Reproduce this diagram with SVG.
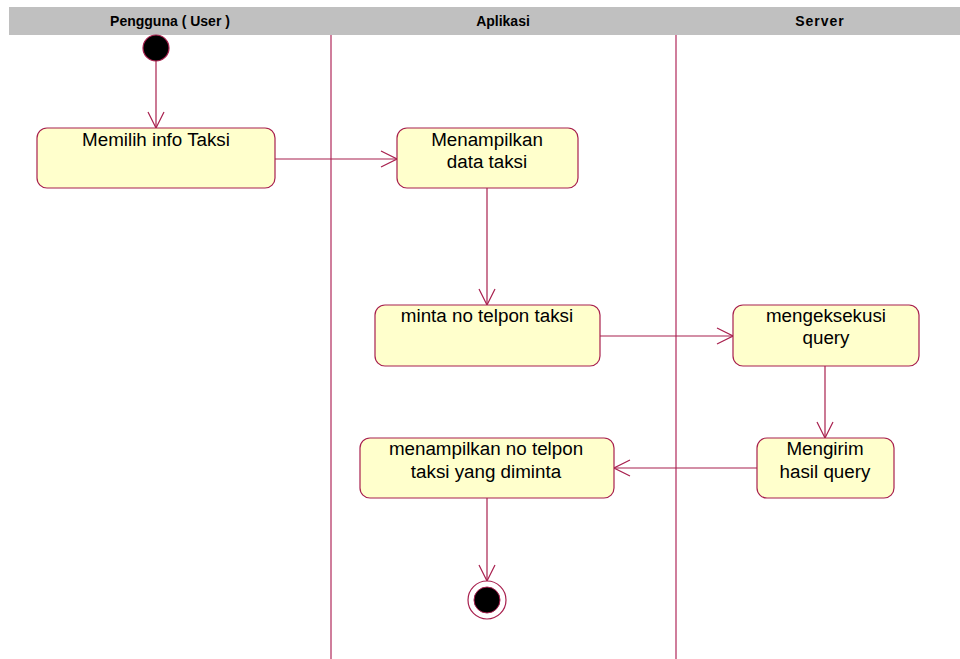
<svg xmlns="http://www.w3.org/2000/svg" width="960" height="659" viewBox="0 0 960 659">
  <style>
    .hdr { fill: #c0c0c0; }
    .hdrtxt { font-family: "Liberation Sans", Arial, sans-serif; font-size: 14px; font-weight: bold; fill: #000; text-anchor: middle; }
    .lane { stroke: #b0285a; stroke-width: 1.2; fill: none; }
    .act { fill: #ffffcc; stroke: #a8204e; stroke-width: 1.2; }
    .lbl { font-family: "Liberation Sans", Arial, sans-serif; font-size: 18.8px; fill: #000; text-anchor: middle; }
    .flow { stroke: #a8204e; stroke-width: 1.2; fill: none; }
    .ah { stroke: #a8204e; stroke-width: 1.2; fill: none; }
  </style>
  <defs>
    <marker id="open" viewBox="0 0 18 18" refX="17" refY="9" markerWidth="18" markerHeight="18" markerUnits="userSpaceOnUse" orient="auto">
      <path class="ah" d="M1,1 L17,9 L1,17"/>
    </marker>
  </defs>
  <rect width="960" height="659" fill="#fff"/>

  <!-- swimlane headers -->
  <g id="lanes">
    <rect class="hdr" x="9" y="7" width="951" height="28"/>
    <text class="hdrtxt" x="170" y="26">Pengguna ( User )</text>
    <text class="hdrtxt" x="503" y="26">Aplikasi</text>
    <text class="hdrtxt" x="820" y="26" letter-spacing="1">Server</text>
    <line class="lane" x1="331" y1="35" x2="331" y2="659"/>
    <line class="lane" x1="676" y1="35" x2="676" y2="659"/>
  </g>

  <!-- transitions -->
  <g id="connectors">
    <line class="flow" x1="156" y1="61" x2="156" y2="128" marker-end="url(#open)"/>
    <line class="flow" x1="275" y1="159" x2="397" y2="159" marker-end="url(#open)"/>
    <line class="flow" x1="487" y1="188" x2="487" y2="305" marker-end="url(#open)"/>
    <line class="flow" x1="600" y1="336" x2="733" y2="336" marker-end="url(#open)"/>
    <line class="flow" x1="825" y1="366" x2="825" y2="438" marker-end="url(#open)"/>
    <line class="flow" x1="757" y1="468" x2="614" y2="468" marker-end="url(#open)"/>
    <line class="flow" x1="487" y1="498" x2="487" y2="581" marker-end="url(#open)"/>
  </g>

  <g id="start">
    <circle cx="156" cy="48" r="13" fill="#000" stroke="#a8204e" stroke-width="1.2"/>
  </g>

  <g id="memilih-info-taksi">
    <rect class="act" x="37" y="128" width="238" height="60" rx="10"/>
    <text class="lbl" x="156" y="146">Memilih info Taksi</text>
  </g>

  <g id="menampilkan-data-taksi">
    <rect class="act" x="397" y="128" width="181" height="60" rx="10"/>
    <text class="lbl" x="487" y="146">Menampilkan</text>
    <text class="lbl" x="487" y="168">data taksi</text>
  </g>

  <g id="minta-no-telpon">
    <rect class="act" x="375" y="305" width="225" height="61" rx="10"/>
    <text class="lbl" x="487" y="322">minta no telpon taksi</text>
  </g>

  <g id="mengeksekusi-query">
    <rect class="act" x="733" y="305" width="186" height="61" rx="10"/>
    <text class="lbl" x="826" y="322">mengeksekusi</text>
    <text class="lbl" x="826" y="344">query</text>
  </g>

  <g id="mengirim-hasil">
    <rect class="act" x="757" y="438" width="137" height="60" rx="10"/>
    <text class="lbl" x="825" y="455">Mengirim</text>
    <text class="lbl" x="825" y="478">hasil query</text>
  </g>

  <g id="menampilkan-no-telpon">
    <rect class="act" x="360" y="438" width="254" height="60" rx="10"/>
    <text class="lbl" x="486" y="455">menampilkan no telpon</text>
    <text class="lbl" x="486" y="478">taksi yang diminta</text>
  </g>

  <g id="end">
    <circle cx="487" cy="600" r="19" fill="#fff" stroke="#a8204e" stroke-width="1.2"/>
    <circle cx="487" cy="600" r="13" fill="#000" stroke="#a8204e" stroke-width="1"/>
  </g>
</svg>
